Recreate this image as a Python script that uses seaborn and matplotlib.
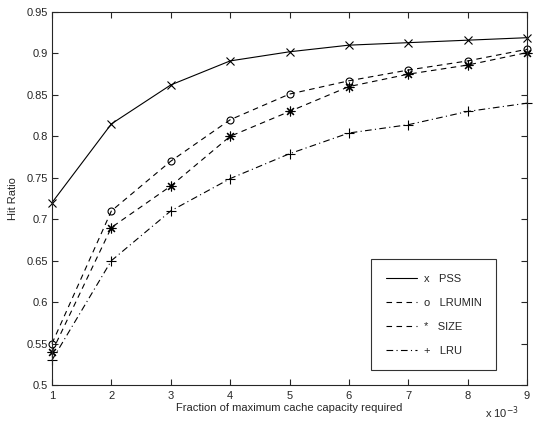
import numpy as np
import pandas as pd
import matplotlib
matplotlib.use("Agg")
import matplotlib.pyplot as plt
import seaborn as sns
from matplotlib.lines import Line2D
from matplotlib.ticker import FormatStrFormatter

# --- data (x in units of 1e-3) ---
capacity = [1, 2, 3, 4, 5, 6, 7, 8, 9]
pss = [0.72, 0.815, 0.862, 0.891, 0.902, 0.910, 0.913, 0.916, 0.919]
lrumin = [0.55, 0.71, 0.77, 0.82, 0.851, 0.867, 0.880, 0.891, 0.905]
size = [0.54, 0.69, 0.74, 0.80, 0.830, 0.860, 0.875, 0.886, 0.901]
lru = [0.53, 0.65, 0.71, 0.749, 0.779, 0.804, 0.814, 0.830, 0.840]
labels = ["PSS", "LRUMIN", "SIZE", "LRU"]
marker_chars = ["x", "o", "*", "+"]

sns.set_style("ticks")
plt.rcParams['font.family'] = ['Liberation Sans', 'DejaVu Sans']

W, H = 533, 425
fig = plt.figure(figsize=(W / 100, H / 100), dpi=100)
# axes box: left 52, right 527, top 12, bottom 385 (pixels)
ax = fig.add_axes([52 / W, (H - 385) / H, 475 / W, 373 / H])

styles = [("-", "x", 6, "k"), ((0, (5, 4)), "o", 5, "none"),
          ((0, (5, 4)), (8, 2, 0), 7, "k"), ((0, (6, 3, 1, 3)), "+", 7, "k")]

df = pd.DataFrame({"capacity": capacity * 4,
                   "hit": pss + lrumin + size + lru,
                   "policy": np.repeat(labels, len(capacity))})

for lab, (ls, mk, ms, mfc) in zip(labels, styles):
    sub = df[df["policy"] == lab]
    sns.lineplot(data=sub, x="capacity", y="hit", ax=ax, color="black",
                 linewidth=0.8, linestyle=ls, marker=mk, markersize=ms,
                 markerfacecolor=mfc, markeredgecolor="black",
                 markeredgewidth=0.8, legend=False, clip_on=False)

ax.set_xlim(1, 9)
ax.set_ylim(0.5, 0.95)
ax.set_xticks(capacity)
ax.set_yticks(np.arange(0.5, 0.951, 0.05))
ax.yaxis.set_major_formatter(FormatStrFormatter('%g'))
ax.tick_params(direction="in", top=True, right=True, labelsize=8, length=4, width=0.8)
ax.tick_params(axis="x", pad=4)
ax.tick_params(axis="y", pad=3)
for sp in ax.spines.values():
    sp.set_linewidth(0.8)
ax.set_xlabel("Fraction of maximum cache capacity required", fontsize=8, labelpad=2)
ax.set_ylabel("Hit Ratio", fontsize=8, labelpad=6)
ax.text(0.982, -0.052, "x 10$^{-3}$", transform=ax.transAxes, fontsize=8,
        ha="right", va="top")

handles = [Line2D([], [], color="black", linewidth=0.8, linestyle=s[0]) for s in styles]
leg_labels = [f"{c}   {l}" for c, l in zip(marker_chars, labels)]
leg = ax.legend(handles, leg_labels, loc="lower right",
                bbox_to_anchor=((496 - 52) / 475, (385 - 370) / 373),
                fontsize=8, frameon=True, fancybox=False, edgecolor="black",
                handlelength=2.8, handletextpad=0.6, borderpad=1.3,
                labelspacing=1.25, borderaxespad=0)
leg.get_frame().set_linewidth(0.8)

fig.savefig("out.png", dpi=100)
